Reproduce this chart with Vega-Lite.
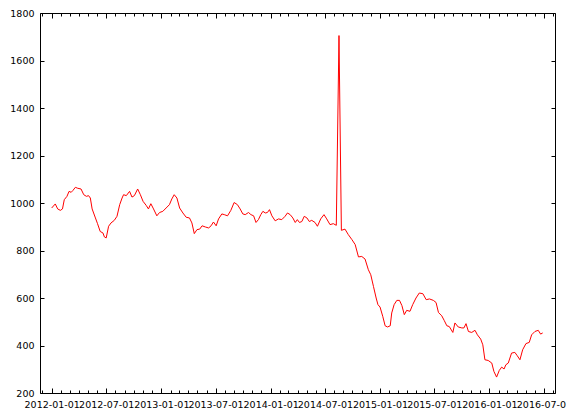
{
  "$schema": "https://vega.github.io/schema/vega-lite/v6.json",
  "width": 515,
  "height": 380,
  "autosize": {"type": "none"},
  "padding": {"left": 40, "top": 13, "right": 11, "bottom": 19},
  "background": "white",
  "config": {
    "view": {"stroke": "black", "strokeWidth": 1},
    "axis": {
      "grid": false,
      "domain": false,
      "title": null,
      "tickColor": "black",
      "tickWidth": 1,
      "labelColor": "black",
      "labelFont": "DejaVu Sans",
      "labelFontSize": 9.5,
      "labelOverlap": false,
      "labelFlush": false,
      "labelBound": false
    }
  },
  "data": {
    "values": [
      {"date": "2012-01-01", "value": 979},
      {"date": "2012-01-13", "value": 996},
      {"date": "2012-01-21", "value": 975},
      {"date": "2012-01-30", "value": 969},
      {"date": "2012-02-06", "value": 975},
      {"date": "2012-02-12", "value": 1014},
      {"date": "2012-02-21", "value": 1028},
      {"date": "2012-02-28", "value": 1049},
      {"date": "2012-03-06", "value": 1045},
      {"date": "2012-03-12", "value": 1053},
      {"date": "2012-03-20", "value": 1066},
      {"date": "2012-03-28", "value": 1062},
      {"date": "2012-04-08", "value": 1059},
      {"date": "2012-04-17", "value": 1035},
      {"date": "2012-04-26", "value": 1028},
      {"date": "2012-05-03", "value": 1031},
      {"date": "2012-05-09", "value": 1021},
      {"date": "2012-05-15", "value": 975},
      {"date": "2012-05-26", "value": 937},
      {"date": "2012-06-02", "value": 913},
      {"date": "2012-06-11", "value": 880},
      {"date": "2012-06-20", "value": 874},
      {"date": "2012-06-25", "value": 857},
      {"date": "2012-07-01", "value": 853},
      {"date": "2012-07-09", "value": 902},
      {"date": "2012-07-17", "value": 916},
      {"date": "2012-07-28", "value": 927},
      {"date": "2012-08-06", "value": 944},
      {"date": "2012-08-15", "value": 993},
      {"date": "2012-08-23", "value": 1021},
      {"date": "2012-08-28", "value": 1035},
      {"date": "2012-09-06", "value": 1031},
      {"date": "2012-09-17", "value": 1049},
      {"date": "2012-09-25", "value": 1025},
      {"date": "2012-10-03", "value": 1031},
      {"date": "2012-10-14", "value": 1059},
      {"date": "2012-10-23", "value": 1035},
      {"date": "2012-11-01", "value": 1007},
      {"date": "2012-11-12", "value": 989},
      {"date": "2012-11-19", "value": 975},
      {"date": "2012-11-27", "value": 997},
      {"date": "2012-12-06", "value": 975},
      {"date": "2012-12-17", "value": 946},
      {"date": "2012-12-26", "value": 960},
      {"date": "2013-01-06", "value": 965},
      {"date": "2013-01-17", "value": 979},
      {"date": "2013-01-28", "value": 993},
      {"date": "2013-02-05", "value": 1017},
      {"date": "2013-02-13", "value": 1035},
      {"date": "2013-02-22", "value": 1021},
      {"date": "2013-03-03", "value": 979},
      {"date": "2013-03-14", "value": 958},
      {"date": "2013-03-25", "value": 940},
      {"date": "2013-04-05", "value": 937},
      {"date": "2013-04-13", "value": 916},
      {"date": "2013-04-21", "value": 871},
      {"date": "2013-04-30", "value": 888},
      {"date": "2013-05-09", "value": 890},
      {"date": "2013-05-17", "value": 904},
      {"date": "2013-05-28", "value": 899},
      {"date": "2013-06-08", "value": 895},
      {"date": "2013-06-16", "value": 904},
      {"date": "2013-06-24", "value": 920},
      {"date": "2013-07-03", "value": 904},
      {"date": "2013-07-11", "value": 933},
      {"date": "2013-07-22", "value": 954},
      {"date": "2013-07-30", "value": 951},
      {"date": "2013-08-10", "value": 946},
      {"date": "2013-08-21", "value": 969},
      {"date": "2013-09-01", "value": 1002},
      {"date": "2013-09-12", "value": 993},
      {"date": "2013-09-21", "value": 975},
      {"date": "2013-09-30", "value": 954},
      {"date": "2013-10-08", "value": 951},
      {"date": "2013-10-19", "value": 960},
      {"date": "2013-10-27", "value": 951},
      {"date": "2013-11-05", "value": 946},
      {"date": "2013-11-13", "value": 918},
      {"date": "2013-11-21", "value": 930},
      {"date": "2013-11-29", "value": 951},
      {"date": "2013-12-06", "value": 965},
      {"date": "2013-12-14", "value": 958},
      {"date": "2013-12-21", "value": 960},
      {"date": "2013-12-28", "value": 972},
      {"date": "2014-01-05", "value": 946},
      {"date": "2014-01-16", "value": 925},
      {"date": "2014-01-27", "value": 933},
      {"date": "2014-02-07", "value": 930},
      {"date": "2014-02-18", "value": 944},
      {"date": "2014-02-26", "value": 958},
      {"date": "2014-03-07", "value": 951},
      {"date": "2014-03-16", "value": 937},
      {"date": "2014-03-24", "value": 918},
      {"date": "2014-03-31", "value": 930},
      {"date": "2014-04-07", "value": 918},
      {"date": "2014-04-15", "value": 922},
      {"date": "2014-04-23", "value": 944},
      {"date": "2014-05-02", "value": 937},
      {"date": "2014-05-10", "value": 922},
      {"date": "2014-05-18", "value": 927},
      {"date": "2014-05-29", "value": 918},
      {"date": "2014-06-06", "value": 902},
      {"date": "2014-06-17", "value": 933},
      {"date": "2014-06-28", "value": 951},
      {"date": "2014-07-07", "value": 933},
      {"date": "2014-07-18", "value": 909},
      {"date": "2014-07-29", "value": 913},
      {"date": "2014-08-08", "value": 906},
      {"date": "2014-08-17", "value": 1705},
      {"date": "2014-08-25", "value": 885},
      {"date": "2014-09-06", "value": 890},
      {"date": "2014-09-17", "value": 867},
      {"date": "2014-09-29", "value": 846},
      {"date": "2014-10-10", "value": 825},
      {"date": "2014-10-21", "value": 773},
      {"date": "2014-11-01", "value": 775},
      {"date": "2014-11-12", "value": 764},
      {"date": "2014-11-23", "value": 719},
      {"date": "2014-12-01", "value": 698},
      {"date": "2014-12-10", "value": 649},
      {"date": "2014-12-19", "value": 600},
      {"date": "2014-12-25", "value": 572},
      {"date": "2015-01-01", "value": 562},
      {"date": "2015-01-10", "value": 523},
      {"date": "2015-01-18", "value": 483},
      {"date": "2015-01-26", "value": 478},
      {"date": "2015-02-04", "value": 483},
      {"date": "2015-02-09", "value": 537},
      {"date": "2015-02-17", "value": 572},
      {"date": "2015-02-26", "value": 590},
      {"date": "2015-03-07", "value": 590},
      {"date": "2015-03-15", "value": 568},
      {"date": "2015-03-23", "value": 530},
      {"date": "2015-03-31", "value": 548},
      {"date": "2015-04-11", "value": 544},
      {"date": "2015-04-20", "value": 572},
      {"date": "2015-05-01", "value": 600},
      {"date": "2015-05-12", "value": 621},
      {"date": "2015-05-24", "value": 618},
      {"date": "2015-06-04", "value": 593},
      {"date": "2015-06-15", "value": 596},
      {"date": "2015-06-28", "value": 590},
      {"date": "2015-07-07", "value": 581},
      {"date": "2015-07-15", "value": 539},
      {"date": "2015-07-26", "value": 525},
      {"date": "2015-08-03", "value": 506},
      {"date": "2015-08-12", "value": 483},
      {"date": "2015-08-20", "value": 480},
      {"date": "2015-09-01", "value": 455},
      {"date": "2015-09-08", "value": 495},
      {"date": "2015-09-19", "value": 478},
      {"date": "2015-10-01", "value": 474},
      {"date": "2015-10-08", "value": 474},
      {"date": "2015-10-15", "value": 492},
      {"date": "2015-10-23", "value": 459},
      {"date": "2015-11-03", "value": 455},
      {"date": "2015-11-14", "value": 464},
      {"date": "2015-11-22", "value": 445},
      {"date": "2015-12-03", "value": 427},
      {"date": "2015-12-10", "value": 403},
      {"date": "2015-12-17", "value": 340},
      {"date": "2015-12-28", "value": 337},
      {"date": "2016-01-09", "value": 326},
      {"date": "2016-01-16", "value": 291},
      {"date": "2016-01-25", "value": 267},
      {"date": "2016-02-03", "value": 295},
      {"date": "2016-02-11", "value": 309},
      {"date": "2016-02-19", "value": 301},
      {"date": "2016-02-25", "value": 319},
      {"date": "2016-03-04", "value": 326},
      {"date": "2016-03-15", "value": 368},
      {"date": "2016-03-26", "value": 371},
      {"date": "2016-04-03", "value": 357},
      {"date": "2016-04-12", "value": 340},
      {"date": "2016-04-21", "value": 382},
      {"date": "2016-05-02", "value": 408},
      {"date": "2016-05-13", "value": 413},
      {"date": "2016-05-21", "value": 445},
      {"date": "2016-06-01", "value": 459},
      {"date": "2016-06-12", "value": 464},
      {"date": "2016-06-20", "value": 448},
      {"date": "2016-06-27", "value": 453}
    ]
  },
  "resolve": {"axis": {"x": "independent", "y": "independent"}},
  "layer": [
    {
      "mark": {"type": "line", "color": "red", "strokeWidth": 1, "opacity": 0},
      "encoding": {
        "x": {"field": "date", "type": "temporal",
          "scale": {"type": "utc", "nice": false, "domain": [{"year": 2011, "month": 11, "date": 23, "utc": true}, {"year": 2016, "month": 8, "date": 7, "utc": true}]},
          "axis": {"orient": "top", "labels": false, "tickSize": -3,
            "values": [{"year": 2011, "month": 12, "date": 1, "utc": true},
              {"year": 2012, "month": 2, "date": 1, "utc": true}, {"year": 2012, "month": 3, "date": 1, "utc": true}, {"year": 2012, "month": 4, "date": 1, "utc": true}, {"year": 2012, "month": 5, "date": 1, "utc": true}, {"year": 2012, "month": 6, "date": 1, "utc": true},
              {"year": 2012, "month": 8, "date": 1, "utc": true}, {"year": 2012, "month": 9, "date": 1, "utc": true}, {"year": 2012, "month": 10, "date": 1, "utc": true}, {"year": 2012, "month": 11, "date": 1, "utc": true}, {"year": 2012, "month": 12, "date": 1, "utc": true},
              {"year": 2013, "month": 2, "date": 1, "utc": true}, {"year": 2013, "month": 3, "date": 1, "utc": true}, {"year": 2013, "month": 4, "date": 1, "utc": true}, {"year": 2013, "month": 5, "date": 1, "utc": true}, {"year": 2013, "month": 6, "date": 1, "utc": true},
              {"year": 2013, "month": 8, "date": 1, "utc": true}, {"year": 2013, "month": 9, "date": 1, "utc": true}, {"year": 2013, "month": 10, "date": 1, "utc": true}, {"year": 2013, "month": 11, "date": 1, "utc": true}, {"year": 2013, "month": 12, "date": 1, "utc": true},
              {"year": 2014, "month": 2, "date": 1, "utc": true}, {"year": 2014, "month": 3, "date": 1, "utc": true}, {"year": 2014, "month": 4, "date": 1, "utc": true}, {"year": 2014, "month": 5, "date": 1, "utc": true}, {"year": 2014, "month": 6, "date": 1, "utc": true},
              {"year": 2014, "month": 8, "date": 1, "utc": true}, {"year": 2014, "month": 9, "date": 1, "utc": true}, {"year": 2014, "month": 10, "date": 1, "utc": true}, {"year": 2014, "month": 11, "date": 1, "utc": true}, {"year": 2014, "month": 12, "date": 1, "utc": true},
              {"year": 2015, "month": 2, "date": 1, "utc": true}, {"year": 2015, "month": 3, "date": 1, "utc": true}, {"year": 2015, "month": 4, "date": 1, "utc": true}, {"year": 2015, "month": 5, "date": 1, "utc": true}, {"year": 2015, "month": 6, "date": 1, "utc": true},
              {"year": 2015, "month": 8, "date": 1, "utc": true}, {"year": 2015, "month": 9, "date": 1, "utc": true}, {"year": 2015, "month": 10, "date": 1, "utc": true}, {"year": 2015, "month": 11, "date": 1, "utc": true}, {"year": 2015, "month": 12, "date": 1, "utc": true},
              {"year": 2016, "month": 2, "date": 1, "utc": true}, {"year": 2016, "month": 3, "date": 1, "utc": true}, {"year": 2016, "month": 4, "date": 1, "utc": true}, {"year": 2016, "month": 5, "date": 1, "utc": true}, {"year": 2016, "month": 6, "date": 1, "utc": true},
              {"year": 2016, "month": 8, "date": 1, "utc": true}]}},
        "y": {"field": "value", "type": "quantitative",
          "scale": {"domain": [200, 1800], "nice": false, "zero": false},
          "axis": {"orient": "right", "labels": false, "tickSize": -4, "values": [200, 400, 600, 800, 1000, 1200, 1400, 1600, 1800]}}
      }
    },
    {
      "mark": {"type": "line", "color": "red", "strokeWidth": 1, "opacity": 0},
      "encoding": {
        "x": {"field": "date", "type": "temporal",
          "scale": {"type": "utc", "nice": false, "domain": [{"year": 2011, "month": 11, "date": 23, "utc": true}, {"year": 2016, "month": 8, "date": 7, "utc": true}]},
          "axis": {"orient": "bottom", "labels": false, "tickSize": -3,
            "values": [{"year": 2011, "month": 12, "date": 1, "utc": true},
              {"year": 2012, "month": 2, "date": 1, "utc": true}, {"year": 2012, "month": 3, "date": 1, "utc": true}, {"year": 2012, "month": 4, "date": 1, "utc": true}, {"year": 2012, "month": 5, "date": 1, "utc": true}, {"year": 2012, "month": 6, "date": 1, "utc": true},
              {"year": 2012, "month": 8, "date": 1, "utc": true}, {"year": 2012, "month": 9, "date": 1, "utc": true}, {"year": 2012, "month": 10, "date": 1, "utc": true}, {"year": 2012, "month": 11, "date": 1, "utc": true}, {"year": 2012, "month": 12, "date": 1, "utc": true},
              {"year": 2013, "month": 2, "date": 1, "utc": true}, {"year": 2013, "month": 3, "date": 1, "utc": true}, {"year": 2013, "month": 4, "date": 1, "utc": true}, {"year": 2013, "month": 5, "date": 1, "utc": true}, {"year": 2013, "month": 6, "date": 1, "utc": true},
              {"year": 2013, "month": 8, "date": 1, "utc": true}, {"year": 2013, "month": 9, "date": 1, "utc": true}, {"year": 2013, "month": 10, "date": 1, "utc": true}, {"year": 2013, "month": 11, "date": 1, "utc": true}, {"year": 2013, "month": 12, "date": 1, "utc": true},
              {"year": 2014, "month": 2, "date": 1, "utc": true}, {"year": 2014, "month": 3, "date": 1, "utc": true}, {"year": 2014, "month": 4, "date": 1, "utc": true}, {"year": 2014, "month": 5, "date": 1, "utc": true}, {"year": 2014, "month": 6, "date": 1, "utc": true},
              {"year": 2014, "month": 8, "date": 1, "utc": true}, {"year": 2014, "month": 9, "date": 1, "utc": true}, {"year": 2014, "month": 10, "date": 1, "utc": true}, {"year": 2014, "month": 11, "date": 1, "utc": true}, {"year": 2014, "month": 12, "date": 1, "utc": true},
              {"year": 2015, "month": 2, "date": 1, "utc": true}, {"year": 2015, "month": 3, "date": 1, "utc": true}, {"year": 2015, "month": 4, "date": 1, "utc": true}, {"year": 2015, "month": 5, "date": 1, "utc": true}, {"year": 2015, "month": 6, "date": 1, "utc": true},
              {"year": 2015, "month": 8, "date": 1, "utc": true}, {"year": 2015, "month": 9, "date": 1, "utc": true}, {"year": 2015, "month": 10, "date": 1, "utc": true}, {"year": 2015, "month": 11, "date": 1, "utc": true}, {"year": 2015, "month": 12, "date": 1, "utc": true},
              {"year": 2016, "month": 2, "date": 1, "utc": true}, {"year": 2016, "month": 3, "date": 1, "utc": true}, {"year": 2016, "month": 4, "date": 1, "utc": true}, {"year": 2016, "month": 5, "date": 1, "utc": true}, {"year": 2016, "month": 6, "date": 1, "utc": true},
              {"year": 2016, "month": 8, "date": 1, "utc": true}]}},
        "y": {"field": "value", "type": "quantitative",
          "scale": {"domain": [200, 1800], "nice": false, "zero": false},
          "axis": null}
      }
    },
    {
      "mark": {"type": "line", "color": "red", "strokeWidth": 1, "opacity": 0},
      "encoding": {
        "x": {"field": "date", "type": "temporal",
          "scale": {"type": "utc", "nice": false, "domain": [{"year": 2011, "month": 11, "date": 23, "utc": true}, {"year": 2016, "month": 8, "date": 7, "utc": true}]},
          "axis": {"orient": "top", "labels": false, "tickSize": -5,
            "values": [{"year": 2012, "month": 1, "date": 1, "utc": true}, {"year": 2012, "month": 7, "date": 1, "utc": true}, {"year": 2013, "month": 1, "date": 1, "utc": true}, {"year": 2013, "month": 7, "date": 1, "utc": true}, {"year": 2014, "month": 1, "date": 1, "utc": true}, {"year": 2014, "month": 7, "date": 1, "utc": true}, {"year": 2015, "month": 1, "date": 1, "utc": true}, {"year": 2015, "month": 7, "date": 1, "utc": true}, {"year": 2016, "month": 1, "date": 1, "utc": true}, {"year": 2016, "month": 7, "date": 1, "utc": true}]}},
        "y": {"field": "value", "type": "quantitative",
          "scale": {"domain": [200, 1800], "nice": false, "zero": false},
          "axis": null}
      }
    },
    {
      "mark": {"type": "line", "color": "red", "strokeWidth": 1},
      "encoding": {
        "x": {"field": "date", "type": "temporal",
          "scale": {"type": "utc", "nice": false, "domain": [{"year": 2011, "month": 11, "date": 23, "utc": true}, {"year": 2016, "month": 8, "date": 7, "utc": true}]},
          "axis": {"orient": "bottom", "tickSize": -5, "labelPadding": 11, "format": "%Y-%m-%d",
            "values": [{"year": 2012, "month": 1, "date": 1, "utc": true}, {"year": 2012, "month": 7, "date": 1, "utc": true}, {"year": 2013, "month": 1, "date": 1, "utc": true}, {"year": 2013, "month": 7, "date": 1, "utc": true}, {"year": 2014, "month": 1, "date": 1, "utc": true}, {"year": 2014, "month": 7, "date": 1, "utc": true}, {"year": 2015, "month": 1, "date": 1, "utc": true}, {"year": 2015, "month": 7, "date": 1, "utc": true}, {"year": 2016, "month": 1, "date": 1, "utc": true}, {"year": 2016, "month": 7, "date": 1, "utc": true}]}},
        "y": {"field": "value", "type": "quantitative",
          "scale": {"domain": [200, 1800], "nice": false, "zero": false},
          "axis": {"orient": "left", "tickSize": -4, "labelPadding": 10, "format": "d", "values": [200, 400, 600, 800, 1000, 1200, 1400, 1600, 1800]}}
      }
    }
  ]
}
